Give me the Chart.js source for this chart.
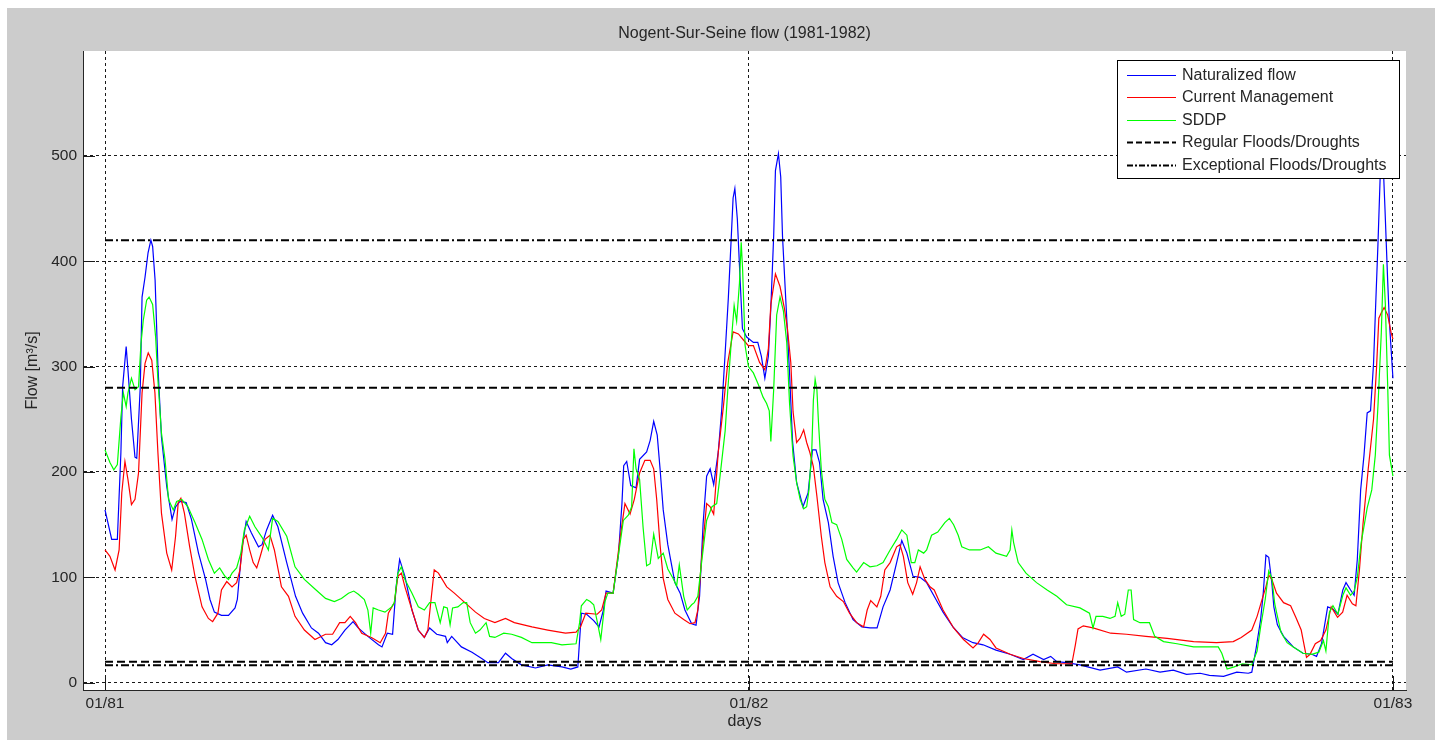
<!DOCTYPE html>
<html>
<head>
<meta charset="utf-8">
<title>Nogent-Sur-Seine flow (1981-1982)</title>
<script src="https://cdn.jsdelivr.net/npm/chart.js@4/dist/chart.umd.min.js"></script>
<style>
  html, body { margin: 0; padding: 0; background: #ffffff; }
  #wrap { width: 1435px; height: 740px; }
</style>
</head>
<body>
<div id="wrap"><canvas id="flowChart" width="1435" height="740"></canvas></div>
<script>
// Daily flow at Nogent-Sur-Seine, day 0 = 1 Jan 1981, values in m3/s
const naturalizedFlow = [
  [0,164],[3.8,136],[7,136],[9,218],[10,281],[12,319],[13,297],[15,250],[17,214],[18,213],[20,281],[21,366],
  [22.7,385],[24.4,408],[26,420],[27,414],[28.4,382],[30,300],[32,233],[35,186],[38,155],[40,167],[42.5,172],
  [46,171],[49,155],[53,123],[57,98],[59.5,79],[62,67],[66,64],[70,64],[73.7,71],[75,79],[77.5,126],[80,153],
  [83,142],[87,129],[89,131],[91.6,145],[95,159],[98,148],[103,114],[108,82],[112,66],[117,52],[121,47],
  [125,38],[128.5,36],[132,41],[136,50],[140.6,58],[143.5,52],[149,44],[155,36],[157,34],[160,47],[163,46],
  [165,91],[167,117],[170,101],[174,69],[177.5,50],[181,43],[184,52],[188,46],[193,44],[194,38],[196.5,44],
  [202,34],[208,29],[213.5,23],[217,19],[223,19],[227,28],[230.5,23],[236,17],[244,14],[251,17],[259,15],
  [264,13],[268,15],[270,66],[273,65],[277,59],[280,53],[282.5,69],[284,87],[288,85],[291,121],[293,170],
  [294,206],[295.7,210],[298,187],[301,185],[303,212],[307,219],[309,230],[311,248],[313,235],[314.6,203],
  [316.4,164],[319,131],[323,95],[326,85],[328.7,69],[332.5,56],[335,54.5],[337,82],[339,151],[341,196],
  [343,203],[345,188],[347.6,219],[349.5,258],[351.4,310],[353.3,365],[355,424],[356,460],[357,469],
  [358.4,440],[360,382],[361.3,336],[363.7,328],[367.5,323],[370,323],[372,310],[374,289],[376,310],
  [377.4,356],[379,424],[380,486],[381.7,502],[383,480],[384,424],[386,359],[388,294],[389.7,229],[392,190],
  [395.6,167],[398.5,180],[401,221],[403,221],[405,209],[407,174],[410,152],[412.7,120],[415.5,95],
  [419.5,76],[424,60],[429,53],[433.6,52],[437.6,52],[441,72],[445,88],[448.7,114],[451.6,135],[454.5,123],
  [458,101],[462,100],[465.7,95],[471,79],[475,67],[480.6,53],[486,43],[492,38],[497.7,36],[505,31],[513,27],
  [520.5,22],[526,27],[532,22],[536,25],[539.5,20],[545,19],[552.6,17],[564,12],[574,15],[579,10],[590,13],
  [598,10],[605.5,12],[613,8],[620.7,9],[626,7],[634,6],[641.5,10],[648,9],[650,10],[652.5,33],[655,60],
  [656.5,85],[658,121],[659.6,119],[661.4,94],[662.5,72],[664.5,55],[668,44],[673.5,34],[679,28],[684,27],
  [686.7,25],[689.5,37],[693,72],[696,70],[698.8,65],[701.6,88],[703.4,95],[706,88],[708,83],[709.8,117],
  [711.7,183],[713.6,216],[715.4,256],[717.3,258],[719,303],[720,349],[721.5,416],[722.8,482],[724,512],
  [725.5,449],[727,382],[728,342],[730,289]
];

const currentManagement = [
  [0,126],[2.8,120],[5.7,107],[8,126],[9.5,180],[11.3,210],[13,193],[15,169],[17,174],[19,199],[21,275],
  [22.7,303],[24.5,313],[26.5,306],[28.3,275],[30,218],[32,161],[35,123],[37.8,107],[40,139],[41.5,171],
  [43,175],[45,161],[48,129],[51,101],[55,72],[58.6,61],[61,58],[64,66],[66,88],[69,96],[72,91],[74.6,95],
  [76.5,107],[78.4,136],[80,140],[82,126],[84,114],[86,109],[88,120],[90.7,136],[93.5,140],[96,126],
  [100,91],[104,82],[107.7,63],[113,50],[119,41],[125,46],[129,46],[133,57],[136,57],[139,63],[142,57],
  [145.5,47],[151,43],[156,38],[159,47],[160.6,66],[164,76],[166,101],[168,104],[170,91],[174,69],
  [177.6,50],[181,43],[183,50],[185,82],[186.6,107],[189,104],[193.7,91],[198,85],[204,76],[210,67],
  [215,61],[221,57],[227,61],[232,57],[242,53],[251,50],[261,47],[267,48],[269.5,53],[272.5,66],[279,65],
  [281.5,69],[284,85],[288,85],[292,138],[294.7,170],[297.6,160],[300,174],[303,199],[306,211],[309,211],
  [311,203],[312.7,174],[314.6,131],[316.4,99],[319,79],[323,66],[328,60],[331.6,56],[334.4,57],[336,69],
  [338,115],[341,170],[343,167],[345,160],[347.6,219],[350.5,262],[353,304],[356,333],[359,331],[362,325],
  [364.6,320],[367.5,320],[371,304],[374,297],[376,317],[377.4,359],[380,388],[382.6,376],[385,356],
  [386.8,336],[388.7,304],[390,257],[392,228],[394,232],[396,240],[397.7,228],[399.6,218],[401.5,205],
  [403.5,177],[406,139],[408,114],[411,91],[414.7,82],[418.5,77],[422,66],[426,57],[430,53],[432,69],
  [434,78],[437.5,72],[439.7,82],[442,107],[445,114],[448.7,129],[450.6,131],[452.5,120],[455,95],
  [457.8,84],[460,95],[462,110],[464.7,98],[467.6,91],[470,88],[475,69],[481,52],[486.6,41],[492,33],
  [495,38],[498,46],[501.6,41],[505,33],[513,27],[520.5,23],[530,20],[539,18],[548,18],[550,36],[551.5,51],
  [554.5,54],[560,52],[570,47],[579,46],[590,44],[602,42],[617,39],[630,38],[639.5,39],[644,43],[650,50],
  [653,63],[656,80],[658,91],[659.6,102],[661.4,98],[664,85],[668,76],[672,73],[675,62],[678,50],[681,24],
  [683,27],[686,37],[689,40],[692,50],[695,72],[698.6,62],[701.5,67],[704,83],[707,75],[709,73],[711,107],
  [713,150],[716,203],[719,250],[720.7,299],[722,346],[723.4,351],[725,356],[727,349],[729,332],[730,326]
];

const sddpFlow = [
  [0,221],[2.8,209],[5,202],[7,207],[9,252],[10.4,275],[12,262],[13,275],[15,289],[17,278],[19,281],
  [20.4,322],[21.7,344],[23.6,363],[25,366],[27,359],[28.7,328],[30,287],[32,237],[34,212],[36,174],
  [38.7,164],[40.6,172],[43.5,174],[47,167],[51,152],[55,136],[58.6,117],[62,104],[65,109],[68,101],
  [70,98],[72,104],[74.6,109],[77,123],[79,145],[82,158],[85,148],[89,138],[92.6,126],[95,156],[98,153],
  [103,139],[107.7,110],[113,98],[119,89],[125,80],[130,77],[134,80],[138,85],[141,87],[143.6,84],[147,79],
  [149,69],[150.6,47],[152,71],[155,69],[158.7,67],[162.5,72],[164,76],[166,104],[168,110],[170,98],
  [174,85],[177.6,72],[181,69],[184,76],[187,76],[190,57],[192,72],[194,71],[195.6,55],[197,71],[200,72],
  [203,76],[205,76],[207,57],[210,47],[212.5,50],[216,57],[218,44],[221,43],[226,47],[230.5,46],[236,43],
  [242,38],[247.5,38],[253,38],[259,36],[267,37],[269,57],[270,73],[273,79],[275,77],[277,74],[279,58],
  [281,41],[283.4,77],[285,85],[288,85],[291,121],[293.8,154],[296.6,159],[298.5,167],[299.8,222],[301,203],
  [303,193],[305,147],[307,111],[309,113],[311,141],[313.6,118],[316.4,123],[319,108],[322,99],[324,92],
  [325.5,112],[328,82],[330,69],[332.5,74],[334,76],[336,82],[338,112],[341,154],[344,167],[346.7,170],
  [348.6,196],[351.5,239],[353,278],[355,324],[356.6,358],[358,343],[359.6,379],[360.6,418],[361.4,392],
  [362.8,320],[364.7,300],[367.5,294],[370.3,283],[373,271],[375,265],[376.5,258],[377.4,229],[379,278],
  [380.7,349],[382.6,366],[384.5,353],[386.4,323],[388,265],[390,215],[392,190],[394,174],[396,165],
  [397.7,167],[399,183],[400.6,221],[401.5,268],[402.5,288],[403.5,278],[404.4,247],[406,202],[408,174],
  [410,167],[412,152],[414.7,150],[417.6,136],[420.4,117],[424,109],[426,105],[430,114],[433.6,110],
  [437.5,111],[441,114],[445,126],[448.7,136],[451.6,145],[454.5,140],[457,114],[459,114],[461,126],
  [464,123],[465.7,126],[468.5,140],[472,143],[476,152],[478.6,156],[481,150],[483.6,140],[485.6,129],
  [490,126],[496,126],[500.7,129],[505,123],[511,120],[513,126],[514,145],[515,133],[517.6,114],[522,104],
  [528,95],[534,88],[539.5,82],[545,74],[552.6,71],[558,66],[560,52],[561.7,63],[565.6,63],[569.6,61],
  [572.5,63],[574,76],[576,63],[578,65],[580,88],[581.6,88],[583,60],[586.6,57],[592,57],[595,44],[600,39],
  [607.6,37],[617,34],[624,34],[631,34],[633,28],[636,13],[640,15],[644.7,18],[650,17],[653,30],[655,53],
  [657.6,79],[659.6,106],[661.4,99],[663,75],[664,67],[666.5,48],[670,38],[673.5,34],[679,28],[684,27],
  [688,29],[690.6,40],[692,30],[694,67],[696,73],[698.8,65],[701.6,83],[703.4,90],[706,83],[708,87],
  [709.8,100],[712,133],[715.4,166],[718,183],[720,216],[721.6,266],[723.4,332],[724.6,397],[725.7,359],
  [727,283],[728,216],[730,196]
];

// Flood / drought thresholds (m3/s) over the two years shown
const thresholdSpan = [0, 730];
const regularThresholds = [280, 20];
const exceptionalThresholds = [420, 16.5];

// Axis ticks
const xTickDays = [0, 365, 730];
const xTickLabels = ['01/81', '01/82', '01/83'];
const yTickValues = [0, 100, 200, 300, 400, 500];

const legendLabels = ['Naturalized flow', 'Current Management', 'SDDP',
                      'Regular Floods/Droughts', 'Exceptional Floods/Droughts'];

const DASHED = [8, 4];
const DASH_DOT = [8, 3, 2, 3];
const FONT = "'Liberation Sans', Arial, Helvetica, sans-serif";
const TEXT = '#262626';

const toPoints = pairs => pairs.map(([d, v]) => ({ x: d, y: v }));
const flatLine = v => thresholdSpan.map(d => ({ x: d, y: v }));

function flowSeries(label, pairs, color, order) {
  return { label, data: toPoints(pairs), borderColor: color, borderWidth: 1.2,
           pointRadius: 0, tension: 0, fill: false, order };
}
function thresholdSeries(label, value, dash) {
  return { label, data: flatLine(value), borderColor: '#000000', borderWidth: 2,
           borderDash: dash, pointRadius: 0, tension: 0, fill: false, order: 0 };
}

// Figure background: grey frame with a white plotting area
const frameBackground = {
  id: 'frameBackground',
  beforeDraw(chart) {
    const { ctx, chartArea: a } = chart;
    ctx.save();
    ctx.fillStyle = '#ffffff';
    ctx.fillRect(0, 0, chart.width, chart.height);
    ctx.fillStyle = '#cccccc';
    ctx.fillRect(7, 8, chart.width - 7, chart.height - 8);
    ctx.fillStyle = '#ffffff';
    ctx.fillRect(a.left, a.top, a.right - a.left, a.bottom - a.top);
    ctx.restore();
  }
};

// Tick marks pointing into the plotting area
const insideTicks = {
  id: 'insideTicks',
  afterDraw(chart) {
    const { ctx, chartArea: a, scales: { x, y } } = chart;
    ctx.save();
    ctx.strokeStyle = '#1a1a1a';
    ctx.lineWidth = 1;
    ctx.setLineDash([]);
    ctx.beginPath();
    y.ticks.forEach(t => {
      const py = Math.round(y.getPixelForValue(t.value)) + 0.5;
      ctx.moveTo(a.left, py); ctx.lineTo(a.left + 12, py);
    });
    x.ticks.forEach(t => {
      const px = Math.round(x.getPixelForValue(t.value)) + 0.5;
      ctx.moveTo(px, a.bottom); ctx.lineTo(px, a.bottom - 14);
    });
    ctx.stroke();
    ctx.restore();
  }
};

// Boxed legend in the upper right corner of the axes
const boxedLegend = {
  id: 'boxedLegend',
  afterDraw(chart) {
    const { ctx, chartArea: a } = chart;
    const styles = [
      { color: '#0000ff', width: 1.2, dash: [] },
      { color: '#ff0000', width: 1.2, dash: [] },
      { color: '#00ff00', width: 1.2, dash: [] },
      { color: '#000000', width: 2, dash: [6, 3] },
      { color: '#000000', width: 2, dash: [6, 2, 2, 2] }
    ];
    const left = a.right - 289, top = a.top + 9, w = 282, h = 118;
    ctx.save();
    ctx.fillStyle = '#ffffff';
    ctx.fillRect(left, top, w, h);
    ctx.strokeStyle = '#000000';
    ctx.lineWidth = 1;
    ctx.setLineDash([]);
    ctx.strokeRect(left + 0.5, top + 0.5, w, h);
    ctx.font = '16px ' + FONT;
    ctx.textBaseline = 'middle';
    ctx.textAlign = 'left';
    legendLabels.forEach((label, i) => {
      const cy = top + 14.5 + i * 22.5;
      const s = styles[i];
      ctx.beginPath();
      ctx.strokeStyle = s.color;
      ctx.lineWidth = s.width;
      ctx.setLineDash(s.dash);
      ctx.moveTo(left + 10, Math.round(cy) + 0.5);
      ctx.lineTo(left + 59, Math.round(cy) + 0.5);
      ctx.stroke();
      ctx.setLineDash([]);
      ctx.fillStyle = TEXT;
      ctx.fillText(label, left + 65, cy + 1);
    });
    ctx.restore();
  }
};

Chart.defaults.font.family = FONT;
Chart.defaults.color = TEXT;

new Chart(document.getElementById('flowChart'), {
  type: 'line',
  data: {
    datasets: [
      flowSeries(legendLabels[0], naturalizedFlow, '#0000ff', 5),
      flowSeries(legendLabels[1], currentManagement, '#ff0000', 4),
      flowSeries(legendLabels[2], sddpFlow, '#00ff00', 3),
      thresholdSeries('Regular floods', regularThresholds[0], DASHED),
      thresholdSeries('Regular droughts', regularThresholds[1], DASHED),
      thresholdSeries('Exceptional floods', exceptionalThresholds[0], DASH_DOT),
      thresholdSeries('Exceptional droughts', exceptionalThresholds[1], DASH_DOT)
    ]
  },
  options: {
    responsive: false,
    animation: false,
    devicePixelRatio: 1,
    layout: { padding: { left: 0, right: 29, top: 0, bottom: 0 } },
    plugins: {
      legend: { display: false },
      tooltip: { enabled: false },
      title: {
        display: true,
        text: 'Nogent-Sur-Seine flow (1981-1982)',
        fullSize: false,
        color: TEXT,
        font: { size: 16, weight: 'normal', lineHeight: 1.2 },
        padding: { top: 24.4, bottom: 7.4 }
      }
    },
    scales: {
      x: {
        type: 'linear',
        min: -12.47,
        max: 737.4,
        afterBuildTicks: axis => { axis.ticks = xTickDays.map(v => ({ value: v })); },
        afterFit: axis => { axis.height = 50; },
        ticks: {
          autoSkip: false,
          maxRotation: 0,
          padding: 4,
          color: TEXT,
          font: { size: 15.5 },
          callback: (v, i) => xTickLabels[i]
        },
        grid: { color: 'rgba(0,0,0,0.9)', lineWidth: 1, drawTicks: false },
        border: { display: true, color: '#262626', width: 1, dash: [3, 3] },
        title: {
          display: true, text: 'days', color: TEXT,
          font: { size: 16, lineHeight: 1.2 }, padding: { top: 0, bottom: 8.4 }
        }
      },
      y: {
        type: 'linear',
        min: -6.9,
        max: 599.5,
        afterBuildTicks: axis => { axis.ticks = yTickValues.map(v => ({ value: v })); },
        afterFit: axis => { axis.width = 83; },
        ticks: { padding: 6, color: TEXT, font: { size: 15.5 } },
        grid: { color: 'rgba(0,0,0,0.9)', lineWidth: 1, drawTicks: false },
        border: { display: true, color: '#262626', width: 1, dash: [3, 3] },
        title: {
          display: true, text: 'Flow [m³/s]', color: TEXT,
          font: { size: 16, lineHeight: 1.2 }, padding: { top: 23.4, bottom: 0 }
        }
      }
    }
  },
  plugins: [frameBackground, insideTicks, boxedLegend]
});
</script>
</body>
</html>
